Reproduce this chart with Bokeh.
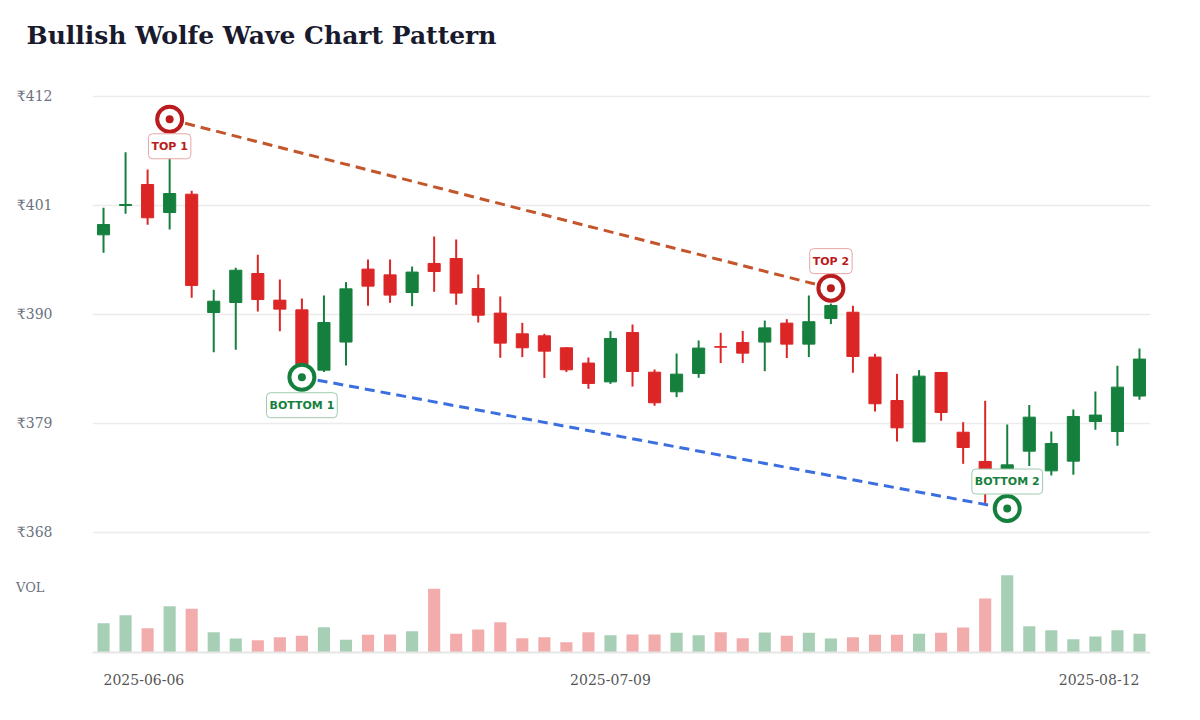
import pandas as pd
from bokeh.plotting import figure
from bokeh.layouts import column
from bokeh.models import Range1d, FixedTicker, Label, Span, ColumnDataSource
from bokeh.embed import file_html
from bokeh.resources import INLINE

# ---------------- data ----------------
dates = pd.bdate_range("2025-06-06", periods=48)

opens = [398.04, 401.00, 403.12, 400.29, 402.14, 390.20, 391.21, 394.14, 391.45, 390.47,
         384.38, 387.22, 394.58, 394.00, 392.22, 395.15, 395.65, 392.62, 390.14, 388.05,
         387.85, 386.64, 385.10, 383.20, 388.18, 384.18, 382.20, 384.05, 386.75, 387.17,
         387.22, 389.13, 387.01, 389.60, 390.23, 385.70, 381.32, 377.14, 384.15, 378.12,
         375.17, 374.02, 376.21, 374.22, 375.20, 379.20, 378.19, 381.77]
highs = [400.77, 406.38, 404.63, 407.00, 402.48, 392.49, 394.71, 396.02, 393.53, 391.61,
         391.92, 393.27, 395.55, 395.55, 394.84, 397.87, 397.57, 394.04, 391.82, 389.16,
         388.05, 386.70, 385.66, 388.32, 388.99, 384.45, 386.06, 387.38, 388.15, 388.35,
         389.39, 389.53, 391.92, 391.10, 390.88, 386.03, 384.01, 384.39, 384.20, 379.13,
         381.29, 378.90, 380.86, 378.19, 380.41, 382.23, 384.82, 386.57]
lows = [396.23, 400.16, 399.05, 398.58, 391.68, 386.20, 386.44, 390.30, 388.31, 384.00,
        384.20, 384.85, 390.88, 391.18, 390.84, 392.29, 390.98, 389.19, 385.63, 385.70,
        383.60, 384.19, 382.50, 383.00, 382.73, 380.79, 381.66, 383.61, 385.10, 385.10,
        384.28, 385.60, 385.70, 389.03, 384.12, 380.21, 377.18, 377.14, 379.27, 374.93,
        370.80, 372.80, 374.70, 373.75, 373.82, 378.36, 376.76, 381.40]
closes = [399.08, 401.10, 399.76, 402.21, 392.93, 391.34, 394.47, 391.51, 390.54, 385.00,
          389.19, 392.59, 392.86, 391.96, 394.28, 394.34, 392.16, 389.93, 387.11, 386.64,
          386.30, 384.42, 383.04, 387.58, 384.25, 381.09, 383.98, 386.61, 386.70, 386.10,
          388.65, 387.01, 389.27, 390.91, 385.76, 380.99, 378.56, 383.78, 380.11, 376.58,
          373.93, 374.83, 379.64, 376.98, 379.71, 379.85, 382.67, 385.50]
volumes = [293, 373, 243, 463, 437, 203, 140, 123, 153, 167,
           253, 127, 177, 180, 213, 637, 187, 230, 303, 143,
           153, 103, 203, 173, 180, 180, 197, 173, 203, 143,
           200, 167, 197, 140, 153, 177, 177, 187, 197, 250,
           540, 773, 263, 223, 133, 160, 223, 187]

price_ticks = [368, 379, 390, 401, 412]

top_idx = [3, 33]
top_price = [409.70, 392.66]
top_names = ["TOP 1", "TOP 2"]
bottom_idx = [9, 41]
bottom_price = [383.67, 370.42]
bottom_names = ["BOTTOM 1", "BOTTOM 2"]

date_tick_idx = [0, 23, 47]
vol_label_at = 650

# ---------------- styles ----------------
GREEN = "#15803d"
RED = "#dc2626"
MRED = "#b91c1c"
MGREEN = "#15803d"
TOPLINE = "#c4552a"
BOTLINE = "#3b6fe0"
GRID = "#ececec"
TICK = "#6b7280"
SERIF = "DejaVu Serif"

n = len(opens)
xs = list(range(n))
up = [c >= o for o, c in zip(opens, closes)]
colors = [GREEN if u else RED for u in up]

src = ColumnDataSource(dict(
    x=xs, open=opens, high=highs, low=lows, close=closes,
    top=[max(o, c) for o, c in zip(opens, closes)],
    bottom=[min(o, c) for o, c in zip(opens, closes)],
    color=colors, vol=volumes,
))

x_range = Range1d(-0.5, n - 0.5)

# ---------------- price figure ----------------
p = figure(width=1184, height=556, x_range=x_range, y_range=Range1d(366.385, 415.633),
           output_backend="svg", toolbar_location=None, x_axis_location=None,
           min_border_left=92, min_border_right=34, min_border_top=60, min_border_bottom=8,
           outline_line_color=None, background_fill_color="white", border_fill_color="white")

p.title.text = "Bullish Wolfe Wave Chart Pattern"
p.title.text_font = SERIF
p.title.text_font_style = "bold"
p.title.text_font_size = "25px"
p.title.text_color = "#1a1a2e"
p.title.align = "left"
p.title.offset = -66
p.title.standoff = 22

p.yaxis.ticker = FixedTicker(ticks=price_ticks)
p.yaxis.major_label_overrides = {t: f"₹{t}" for t in price_ticks}
p.yaxis.axis_line_color = None
p.yaxis.major_tick_line_color = None
p.yaxis.minor_tick_line_color = None
p.yaxis.major_label_standoff = 34
p.yaxis.major_label_text_font = SERIF
p.yaxis.major_label_text_font_size = "14px"
p.yaxis.major_label_text_color = TICK

p.xgrid.visible = False
p.ygrid.grid_line_color = GRID
p.ygrid.grid_line_width = 1.5

p.segment(x0="x", y0="high", x1="x", y1="low", color="color", line_width=2, source=src)
p.vbar(x="x", width=0.55, top="top", bottom="bottom", fill_color="color",
       line_color="color", line_width=1, source=src)

p.line(top_idx, top_price, line_color=TOPLINE, line_width=3, line_dash="10 6")
p.line(bottom_idx, bottom_price, line_color=BOTLINE, line_width=3, line_dash="10 6")

p.scatter(top_idx, top_price, size=25, fill_color="white", line_color=MRED, line_width=4)
p.scatter(top_idx, top_price, size=8, fill_color=MRED, line_color=None)
p.scatter(bottom_idx, bottom_price, size=25, fill_color="white", line_color=MGREEN, line_width=4)
p.scatter(bottom_idx, bottom_price, size=8, fill_color=MGREEN, line_color=None)

label_offsets_top = [-27, 27]
label_offsets_bottom = [-28, 27]
for xi, yi, name, off in zip(top_idx, top_price, top_names, label_offsets_top):
    p.add_layout(Label(x=xi, y=yi, y_offset=off, text=name, text_align="center",
                       text_baseline="middle", text_font="DejaVu Sans", text_font_style="bold",
                       text_font_size="11px", text_color=MRED,
                       background_fill_color="white", border_line_color="#e8a5a5",
                       border_line_width=1, padding=(3, 6), border_radius=4))
for xi, yi, name, off in zip(bottom_idx, bottom_price, bottom_names, label_offsets_bottom):
    p.add_layout(Label(x=xi, y=yi, y_offset=off, text=name, text_align="center",
                       text_baseline="middle", text_font="DejaVu Sans", text_font_style="bold",
                       text_font_size="11px", text_color=MGREEN,
                       background_fill_color="white", border_line_color="#9fcbae",
                       border_line_width=1, padding=(3, 6), border_radius=4))

# ---------------- volume figure ----------------
v = figure(width=1184, height=150, x_range=x_range, y_range=Range1d(-480, 800),
           output_backend="svg", toolbar_location=None, x_axis_location=None,
           min_border_left=92, min_border_right=34, min_border_top=16, min_border_bottom=6,
           outline_line_color=None, background_fill_color="white", border_fill_color="white")
v.xgrid.visible = False
v.ygrid.visible = False

v.yaxis.ticker = FixedTicker(ticks=[vol_label_at])
v.yaxis.major_label_overrides = {vol_label_at: "VOL"}
v.yaxis.axis_line_color = None
v.yaxis.major_tick_line_color = None
v.yaxis.minor_tick_line_color = None
v.yaxis.major_label_standoff = 42
v.yaxis.major_label_text_font = SERIF
v.yaxis.major_label_text_font_size = "13px"
v.yaxis.major_label_text_color = TICK

v.vbar(x="x", width=0.55, top="vol", bottom=0, fill_color="color", fill_alpha=0.38,
       line_color=None, source=src)
v.add_layout(Span(location=0, dimension="width", line_color="#e6e6e6", line_width=2))

aligns = ["left", "center", "right"]
for idx, al in zip(date_tick_idx, aligns):
    v.add_layout(Label(x=idx, y=-270, text=dates[idx].strftime("%Y-%m-%d"),
                       text_align=al, text_baseline="middle", text_font=SERIF,
                       text_font_size="14px", text_color="#555555"))

layout = column(p, v, spacing=0)
open("out.html", "w").write(file_html(layout, INLINE))
